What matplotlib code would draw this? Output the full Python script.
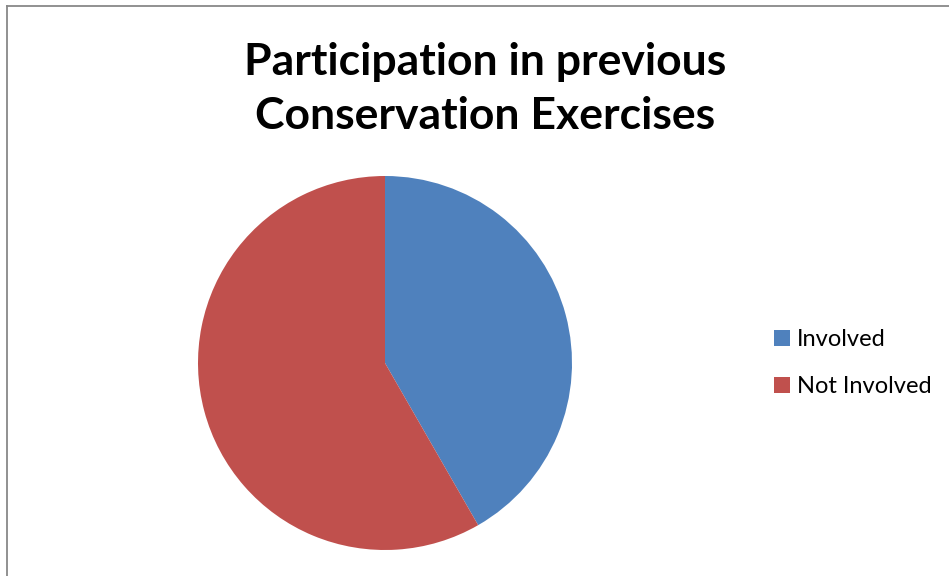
import matplotlib.pyplot as plt
from matplotlib.lines import Line2D

LABELS = ["Involved", "Not Involved"]
VALUES = [41.7, 58.3]
COLORS = ["#4F81BD", "#C0504D"]
TITLE = "Participation in previous\nConservation Exercises"

W, H = 949, 576
fig = plt.figure(figsize=(W / 100, H / 100), dpi=100)
fig.patch.set_facecolor("white")

# pie axes: centre (385, 363), radius 187 px
cx, cy, r = 385, 363, 187
ax = fig.add_axes([(cx - r) / W, (H - cy - r) / H, 2 * r / W, 2 * r / H])
wedges, _ = ax.pie(VALUES, colors=COLORS, startangle=90, counterclock=False,
                   wedgeprops=dict(linewidth=0))
ax.set_xlim(-1, 1)
ax.set_ylim(-1, 1)
ax.set_aspect("equal")

fig.text(485 / W, 1 - 89 / H, TITLE, ha="center", va="center",
         fontsize=32, fontweight="bold", family="Lato", linespacing=1.45)

leg = fig.legend(wedges, LABELS, loc="center left",
                 bbox_to_anchor=(774 / W, 1 - 363 / H), frameon=False,
                 prop=dict(family="Lato", size=17), handlelength=0.68,
                 handleheight=0.68, handletextpad=0.3, labelspacing=1.1,
                 borderpad=0, borderaxespad=0)

# chart border (grey, left and top edges visible)
fig.add_artist(Line2D([7 / W, 7 / W], [0, 1 - 5.5 / H], color="#888888",
                      linewidth=1.3, transform=fig.transFigure))
fig.add_artist(Line2D([7 / W, 1], [1 - 5.5 / H, 1 - 5.5 / H], color="#888888",
                      linewidth=1.3, transform=fig.transFigure))

fig.savefig("out.png", dpi=100)
